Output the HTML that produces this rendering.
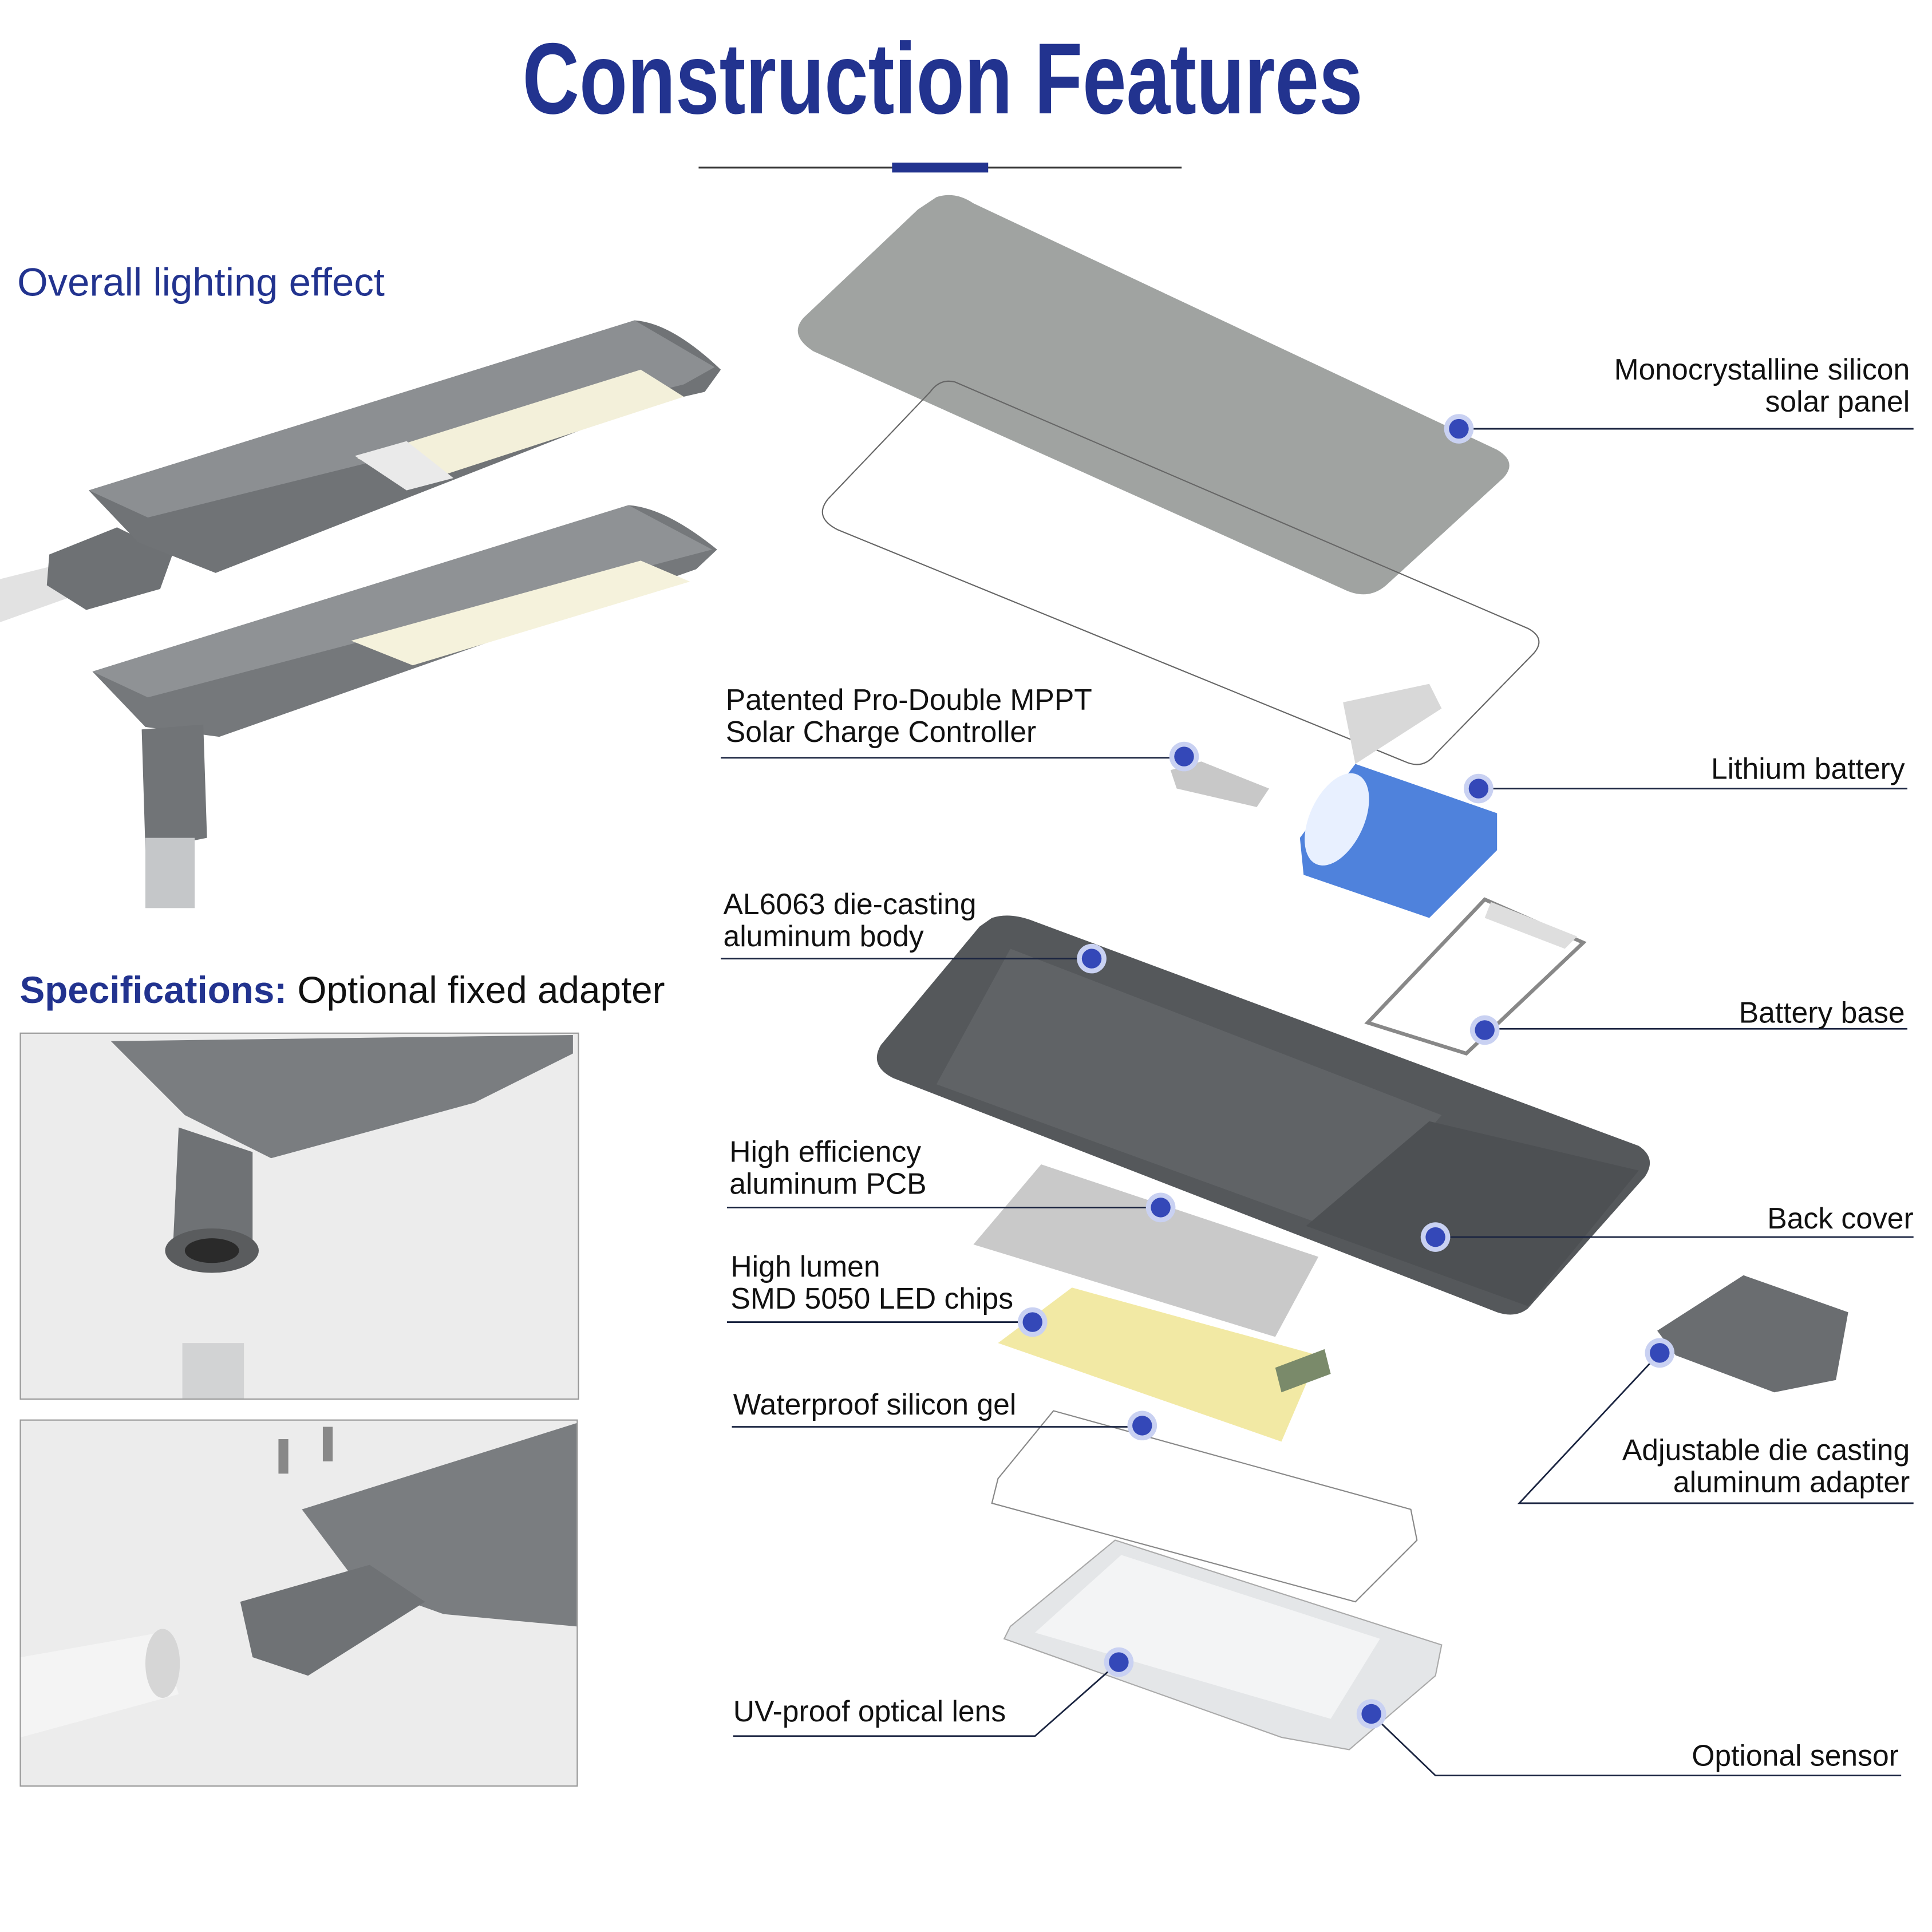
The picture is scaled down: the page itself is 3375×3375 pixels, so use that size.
<!DOCTYPE html>
<html><head><meta charset="utf-8"><style>
html,body{margin:0;padding:0;background:#fff}
svg{display:block}
.t{font-family:"Liberation Sans",sans-serif;font-size:24px;fill:#111}
.r{text-anchor:end}
.ln{stroke:#1a2440;stroke-width:1.3;fill:none}
</style></head><body>
<svg width="3375" height="3375" viewBox="0 0 1568 1568" xmlns="http://www.w3.org/2000/svg">
<defs>
<g id="dot"><circle r="12" fill="#c9d1f2"/><circle r="8" fill="#3448b8"/></g>
</defs>
<rect width="1568" height="1568" fill="#fff"/>
<text x="765" y="92" text-anchor="middle" font-family="Liberation Sans Narrow,Liberation Sans,sans-serif" font-weight="bold" font-size="82" fill="#22338f" textLength="682" lengthAdjust="spacingAndGlyphs">Construction Features</text>
<line x1="567" y1="136" x2="959" y2="136" stroke="#333" stroke-width="1.5"/>
<rect x="724" y="132" width="78" height="8" fill="#22338f"/>
<text x="14" y="240" font-family="Liberation Sans,sans-serif" font-size="32" fill="#22338f">Overall lighting effect</text>
<text x="16" y="814" font-family="Liberation Sans,sans-serif" font-size="30.5"><tspan fill="#22338f" font-weight="bold">Specifications:</tspan><tspan fill="#111"> Optional fixed adapter</tspan></text>

<path d="M0 470 L60 455 L70 480 L0 505Z" fill="#e2e2e2"/>
<path d="M40 450 L95 428 L140 450 L130 478 L70 495 L38 475Z" fill="#6e7174"/>
<path d="M72 398 L515 260 Q545 262 585 300 L572 318 L520 330 L175 465 L112 440Z" fill="#707376"/>
<path d="M72 398 L515 260 L580 298 L555 312 L120 420Z" fill="#8c8f92"/>
<path d="M290 372 L520 300 L555 322 L340 392Z" fill="#f3f0da"/>
<path d="M288 370 L330 358 L368 388 L330 398Z" fill="#eaeaea"/>
<path d="M75 545 L510 410 Q540 412 582 446 L565 462 L178 598 L118 590Z" fill="#75787b"/>
<path d="M75 545 L510 410 L578 446 L120 566Z" fill="#8f9295"/>
<path d="M285 520 L520 455 L560 472 L335 540Z" fill="#f5f2dc"/>
<path d="M115 592 L165 588 L168 680 L118 690Z" fill="#717477"/>
<rect x="118" y="680" width="40" height="57" fill="#c5c7c9"/>

<rect x="16.5" y="838.5" width="453" height="297" fill="#ececec" stroke="#999"/>
<path d="M90 845 L465 840 L465 855 L385 895 L220 940 L150 905Z" fill="#7a7d80"/>
<path d="M145 915 L205 935 L205 1010 L185 1030 L140 1020Z" fill="#6f7275"/>
<ellipse cx="172" cy="1015" rx="38" ry="18" fill="#5a5c5e"/>
<ellipse cx="172" cy="1015" rx="22" ry="10" fill="#2a2a2a"/>
<rect x="148" y="1090" width="50" height="45" fill="#d2d3d4"/>
<rect x="16.5" y="1152.5" width="452" height="297" fill="#ececec" stroke="#999"/>
<path d="M245 1225 L468 1155 L468 1320 L360 1310 L290 1285Z" fill="#7a7d80"/>
<path d="M195 1300 L300 1270 L345 1300 L250 1360 L205 1345Z" fill="#6f7275"/>
<path d="M17 1345 L130 1325 L145 1375 L17 1410Z" fill="#f4f4f4"/>
<ellipse cx="132" cy="1350" rx="14" ry="28" fill="#d6d6d6"/>
<rect x="226" y="1168" width="8" height="28" fill="#888"/>
<rect x="262" y="1158" width="8" height="28" fill="#888"/>

<path d="M760 160 Q775 155 790 165 L1215 365 Q1232 375 1220 388 L1125 475 Q1110 488 1090 478 L660 285 Q640 272 652 258 L745 170Z" fill="#a0a3a1"/>
<path d="M775 310 L1240 510 Q1255 518 1245 530 L1165 612 Q1155 625 1140 618 L680 430 Q660 420 672 405 L755 318 Q763 307 775 310Z" fill="none" stroke="#666" stroke-width="1"/>
<path d="M1090 570 L1160 555 L1170 575 L1100 620Z" fill="#d8d8d8"/>
<path d="M1055 680 L1100 620 L1215 660 L1215 690 L1160 745 L1058 710Z" fill="#4f82dc"/>
<ellipse cx="1085" cy="665" rx="22" ry="40" fill="#e8f0ff" transform="rotate(25 1085 665)"/>
<path d="M950 625 L975 618 L1030 640 L1020 655 L955 640Z" fill="#c8c8c8"/>
<path d="M1205 730 L1285 765 L1190 855 L1110 830Z" fill="none" stroke="#888" stroke-width="3"/>
<path d="M1210 732 L1280 760 L1270 770 L1205 745Z" fill="#dedede"/>
<path d="M805 745 Q820 740 840 748 L1330 930 Q1345 940 1335 955 L1240 1062 Q1230 1070 1215 1065 L725 875 Q705 865 715 848 L795 752Z" fill="#55585b"/>
<path d="M820 770 L1170 905 L1090 1000 L760 880 Z" fill="#606366"/>
<path d="M1060 995 L1160 910 L1330 950 L1240 1060Z" fill="#4d5053"/>
<path d="M845 945 L1070 1020 L1035 1085 L790 1010Z" fill="#c9c9c9"/>
<path d="M870 1045 L1070 1100 L1040 1170 L810 1090Z" fill="#e6d34a" opacity="0.5"/>
<path d="M1035 1110 L1075 1095 L1080 1115 L1040 1130Z" fill="#7a8a6a"/>
<path d="M855 1145 L1145 1225 L1150 1250 L1100 1300 L805 1220 L810 1200Z" fill="none" stroke="#888" stroke-width="1"/>
<path d="M905 1250 L1170 1335 L1165 1360 L1095 1420 L1040 1410 L815 1330 L820 1320Z" fill="#e4e6e8" stroke="#aaa"/>
<path d="M910 1262 L1120 1330 L1080 1395 L840 1325Z" fill="#f3f4f5"/>
<path d="M1345 1080 L1415 1035 L1500 1065 L1490 1120 L1440 1130 L1360 1100Z" fill="#6a6d70"/>

<g class="ln">
<polyline points="1185,348 1553,348"/>
<polyline points="585,615 961,615"/>
<polyline points="1200,640 1548,640"/>
<polyline points="585,778 886,778"/>
<polyline points="1205,835 1548,835"/>
<polyline points="590,980 942,980"/>
<polyline points="1165,1004 1553,1004"/>
<polyline points="590,1073 838,1073"/>
<polyline points="594,1158 927,1158"/>
<polyline points="1347,1098 1233,1220 1553,1220"/>
<polyline points="595,1409 840,1409 908,1349"/>
<polyline points="1113,1391 1165,1441 1543,1441"/>
</g>
<use href="#dot" x="1184" y="348"/>
<use href="#dot" x="961" y="614"/>
<use href="#dot" x="1200" y="640"/>
<use href="#dot" x="886" y="778"/>
<use href="#dot" x="1205" y="836"/>
<use href="#dot" x="942" y="980"/>
<use href="#dot" x="1165" y="1004"/>
<use href="#dot" x="838" y="1073"/>
<use href="#dot" x="927" y="1157"/>
<use href="#dot" x="1347" y="1098"/>
<use href="#dot" x="908" y="1349"/>
<use href="#dot" x="1113" y="1391"/>

<text class="t r" x="1550" y="308">Monocrystalline silicon</text>
<text class="t r" x="1550" y="334">solar panel</text>
<text class="t" x="589" y="576">Patented Pro-Double MPPT</text>
<text class="t" x="589" y="602">Solar Charge Controller</text>
<text class="t r" x="1546" y="632">Lithium battery</text>
<text class="t" x="587" y="742">AL6063 die-casting</text>
<text class="t" x="587" y="768">aluminum body</text>
<text class="t r" x="1546" y="830">Battery base</text>
<text class="t" x="592" y="943">High efficiency</text>
<text class="t" x="592" y="969">aluminum PCB</text>
<text class="t r" x="1553" y="997">Back cover</text>
<text class="t" x="593" y="1036">High lumen</text>
<text class="t" x="593" y="1062">SMD 5050 LED chips</text>
<text class="t" x="595" y="1148">Waterproof silicon gel</text>
<text class="t r" x="1550" y="1185">Adjustable die casting</text>
<text class="t r" x="1550" y="1211">aluminum adapter</text>
<text class="t" x="595" y="1397">UV-proof optical lens</text>
<text class="t r" x="1541" y="1433">Optional sensor</text>
</svg>
</body></html>
